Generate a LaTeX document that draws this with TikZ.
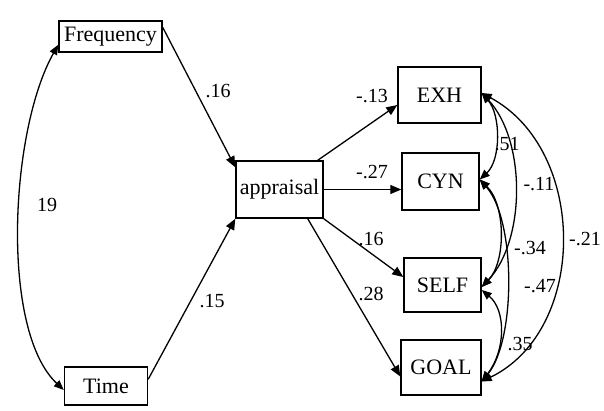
\documentclass[tikz,border=0pt]{standalone}
\usepackage{fontspec}
\setmainfont{Liberation Serif}
\usetikzlibrary{arrows.meta,calc}
\begin{document}
\begin{tikzpicture}[x=1pt,y=-1pt,
  box/.style={draw,line width=1.4pt,inner sep=0pt,font=\fontsize{22}{25}\selectfont},
  lbl/.style={inner sep=0pt,font=\fontsize{20}{23}\selectfont},
  effect/.style={line width=1.3pt,-{Triangle[length=11pt,width=9pt]}},
  cov/.style={line width=1.3pt,{Triangle[length=10pt,width=8pt]}-{Triangle[length=10pt,width=8pt]}}]
\useasboundingbox (0,0) rectangle (604,410);

% observed variables
\node[box,minimum width=103pt,minimum height=31pt] (freq) at (110.5,36.5) {Frequency};
\node[box,minimum width=83pt,minimum height=38pt] (time) at (106,386) {Time};
\node[box,minimum width=87pt,minimum height=57pt] (app) at (279.5,189.5) {appraisal};
\node[box,minimum width=83pt,minimum height=56pt] (exh) at (439.5,95) {EXH};
\node[box,minimum width=77pt,minimum height=57pt] (cyn) at (440.5,181.5) {CYN};
\node[box,minimum width=77pt,minimum height=54pt] (self) at (442.5,285) {SELF};
\node[box,minimum width=80pt,minimum height=55pt] (goal) at (441,367.5) {GOAL};

% predictors of appraisal
\draw[effect] ([yshift=-7pt]freq.north east) -- ([yshift=-7pt]app.north west);
\draw[effect] ([yshift=-13pt]time.north east) -- (app.south west);
\draw[cov] ([yshift=8pt]freq.south west) .. controls (10,130) and (0,330) .. ([yshift=-4pt]time.west);

% appraisal to outcomes
\draw[effect] ([xshift=-6pt]app.north east) -- ([yshift=-10pt]exh.west);
\draw[effect] (app.east) -- (app.east -| cyn.west);
\draw[effect] (app.south east) -- ([yshift=8pt]self.west);
\draw[effect] ([xshift=-16pt]app.south east) -- ([yshift=-9pt]goal.west);

% residual covariances among outcomes
\coordinate (exhR) at ([yshift=2pt]exh.east);
\coordinate (cynR) at ([yshift=2pt]cyn.east);
\coordinate (selfR) at ([yshift=-2pt]self.east);
\coordinate (selfR2) at ([yshift=-5pt]self.east);
\coordinate (goalR) at ([yshift=-14pt]goal.east);
\draw[cov] (exhR) .. controls (501,115) and (501,160) .. (cynR);
\draw[cov] (exhR) .. controls (526,140) and (526,240) .. (selfR);
\draw[cov] (exhR) .. controls (588,150) and (588,330) .. (goalR);
\draw[cov] (cynR) .. controls (506,205) and (506,262) .. (selfR);
\draw[cov] (cynR) .. controls (516,220) and (516,340) .. (goalR);
\draw[cov] (selfR2) .. controls (506,310) and (506,350) .. (goalR);

% coefficients
\node[lbl] (l1) at (218,91) {.16};
\node[lbl] (l2) at (212,301) {.15};
\node[lbl] (l3) at (47,205) {19};
\node[lbl] (l4) at (372,96) {-.13};
\node[lbl] (l5) at (372,172) {-.27};
\node[lbl] (l6) at (371,239) {.16};
\node[lbl] (l7) at (371,294) {.28};
\node[lbl] (l8) at (507,144) {.51};
\node[lbl] (l9) at (539,184) {-.11};
\node[lbl] (l10) at (585,239) {-.21};
\node[lbl] (l11) at (530,248) {-.34};
\node[lbl] (l12) at (540,286) {-.47};
\node[lbl] (l13) at (520,344) {.35};
\end{tikzpicture}
\end{document}
